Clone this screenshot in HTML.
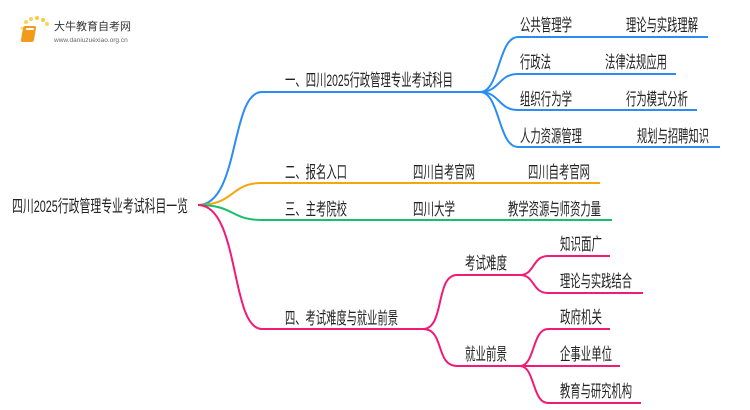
<!DOCTYPE html>
<html><head><meta charset="utf-8"><style>
html,body{margin:0;padding:0;background:#fff;width:750px;height:410px;overflow:hidden}
text{font-family:"Liberation Sans","Noto Sans CJK SC",sans-serif;font-size:17px;fill:#222}
</style></head><body>
<svg width="750" height="410" viewBox="0 0 750 410" xmlns="http://www.w3.org/2000/svg">
<g>
<circle cx="26" cy="22" r="2" fill="#fbd35a"/><circle cx="31" cy="19" r="2" fill="#fbd35a"/><circle cx="37" cy="18" r="2" fill="#fbc93a"/><circle cx="43" cy="20" r="2" fill="#fbc93a"/><circle cx="47" cy="24" r="2" fill="#fbd35a"/><circle cx="22" cy="28" r="1.5" fill="#fde08a"/><circle cx="23" cy="34" r="1.5" fill="#fde08a"/>
<rect x="28" y="26" width="13" height="16" rx="2" fill="#f29a1c" transform="skewX(-10)"/>
<rect x="31" y="28" width="8" height="2" fill="#fff" transform="skewX(-10)"/>
<text x="54" y="30" style="font-size:11px;fill:#333">大牛教育自考网</text>
<text x="54" y="42" style="font-size:6.5px;fill:#666">www.daniuzuexiao.org.cn</text>
</g>
<g fill="none" stroke-width="2">
<path d="M198 205 C240 205,230 92,262 92 L480 92" stroke="#2a8cf5"/>
<path d="M480 92 C500 92,498 37,518 37 L708 37" stroke="#2a8cf5"/>
<path d="M480 92 C500 92,498 74,518 74 L676 74" stroke="#2a8cf5"/>
<path d="M480 92 C500 92,498 110,518 110 L697 110" stroke="#2a8cf5"/>
<path d="M480 92 C500 92,498 147,518 147 L720 147" stroke="#2a8cf5"/>
<path d="M198 205 C235 205,230 183,262 183 L600 183" stroke="#f5a60a"/>
<path d="M198 205 C235 205,230 220,262 220 L612 220" stroke="#16c06a"/>
<path d="M198 205 C240 205,230 329,262 329 L423 329" stroke="#f21a76"/>
<path d="M423 329 C445 329,435 275,457 275 L520 275" stroke="#f21a76"/>
<path d="M423 329 C445 329,435 366,457 366 L520 366" stroke="#f21a76"/>
<path d="M520 275 C535 275,532 256,548 256 L610 256" stroke="#f21a76"/>
<path d="M520 275 C535 275,532 293,548 293 L643 293" stroke="#f21a76"/>
<path d="M520 366 C535 366,532 329,548 329 L610 329" stroke="#f21a76"/>
<path d="M520 366 C535 366,532 366,548 366 L620 366" stroke="#f21a76"/>
<path d="M520 366 C535 366,532 403,548 403 L641 403" stroke="#f21a76"/>
</g>
<g>
<text x="12" y="212" textLength="176" lengthAdjust="spacingAndGlyphs">四川2025行政管理专业考试科目一览</text>
<text x="285" y="86" textLength="168" lengthAdjust="spacingAndGlyphs">一、四川2025行政管理专业考试科目</text>
<text x="520" y="31" textLength="52" lengthAdjust="spacingAndGlyphs">公共管理学</text><text x="626" y="31" textLength="72" lengthAdjust="spacingAndGlyphs">理论与实践理解</text>
<text x="520" y="68" textLength="31" lengthAdjust="spacingAndGlyphs">行政法</text><text x="605" y="68" textLength="62" lengthAdjust="spacingAndGlyphs">法律法规应用</text>
<text x="520" y="105" textLength="52" lengthAdjust="spacingAndGlyphs">组织行为学</text><text x="626" y="105" textLength="62" lengthAdjust="spacingAndGlyphs">行为模式分析</text>
<text x="520" y="142" textLength="62" lengthAdjust="spacingAndGlyphs">人力资源管理</text><text x="637" y="142" textLength="72" lengthAdjust="spacingAndGlyphs">规划与招聘知识</text>
<text x="285" y="178" textLength="62" lengthAdjust="spacingAndGlyphs">二、报名入口</text><text x="413" y="178" textLength="62" lengthAdjust="spacingAndGlyphs">四川自考官网</text><text x="528" y="178" textLength="62" lengthAdjust="spacingAndGlyphs">四川自考官网</text>
<text x="285" y="215" textLength="62" lengthAdjust="spacingAndGlyphs">三、主考院校</text><text x="413" y="215" textLength="42" lengthAdjust="spacingAndGlyphs">四川大学</text><text x="508" y="215" textLength="93" lengthAdjust="spacingAndGlyphs">教学资源与师资力量</text>
<text x="285" y="324" textLength="113" lengthAdjust="spacingAndGlyphs">四、考试难度与就业前景</text>
<text x="465" y="269" textLength="42" lengthAdjust="spacingAndGlyphs">考试难度</text><text x="465" y="360" textLength="42" lengthAdjust="spacingAndGlyphs">就业前景</text>
<text x="560" y="250" textLength="42" lengthAdjust="spacingAndGlyphs">知识面广</text><text x="560" y="287" textLength="72" lengthAdjust="spacingAndGlyphs">理论与实践结合</text>
<text x="560" y="323" textLength="42" lengthAdjust="spacingAndGlyphs">政府机关</text><text x="560" y="360" textLength="52" lengthAdjust="spacingAndGlyphs">企事业单位</text><text x="560" y="397" textLength="72" lengthAdjust="spacingAndGlyphs">教育与研究机构</text>
</g>
</svg>
</body></html>
